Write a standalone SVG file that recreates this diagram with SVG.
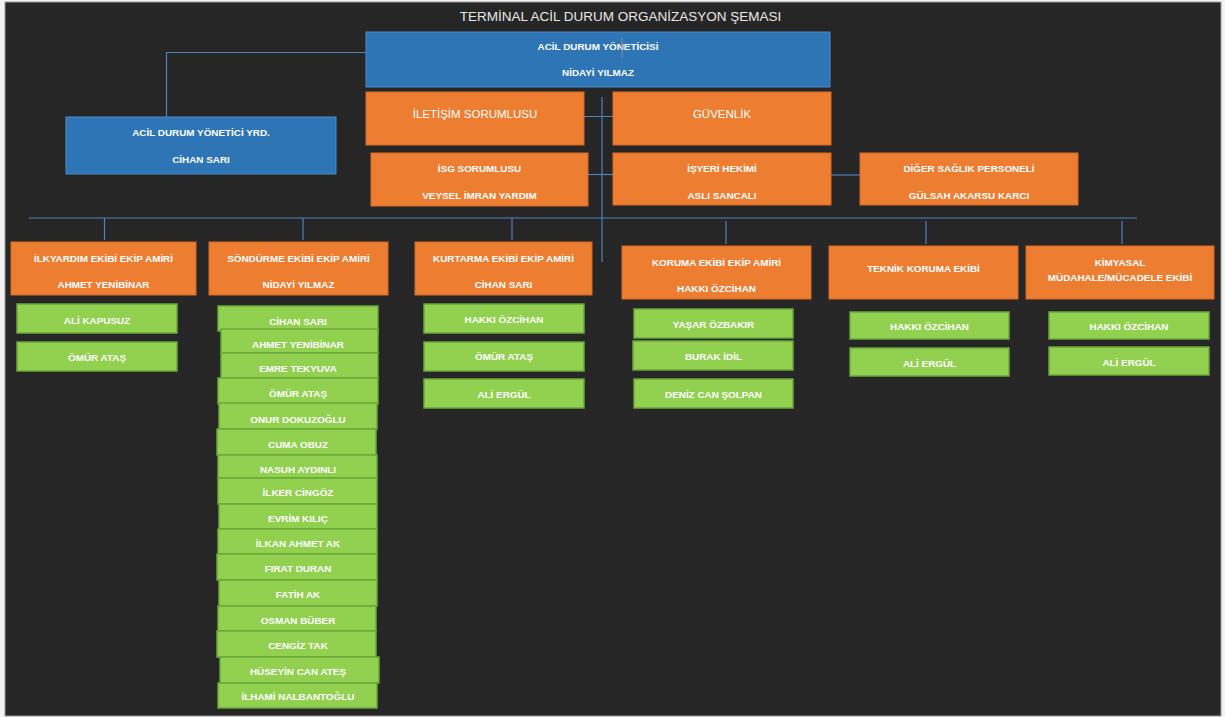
<svg xmlns="http://www.w3.org/2000/svg" width="1225" height="717" viewBox="0 0 1225 717">
<style>
.blue{fill:#2e75b6;stroke:#4a89c8;stroke-width:1}
.orange{fill:#ed7d31;stroke:#d86a22;stroke-width:1}
.green{fill:#92d050;stroke:#6aa83a;stroke-width:1.5}
.t{font-family:"Liberation Sans",Arial,sans-serif;font-size:9.9px;font-weight:bold;fill:#ffffff;text-anchor:middle}
.tl{font-family:"Liberation Sans",Arial,sans-serif;font-size:11.5px;fill:#ffffff;text-anchor:middle}
.title{font-family:"Liberation Sans",Arial,sans-serif;font-size:13.5px;fill:#e6e6e6;text-anchor:middle}
.ln{stroke:#4f81bd;stroke-width:1.2;fill:none}
</style>
<rect x="0" y="0" width="1225" height="717" fill="#f2f2f2"/>
<rect x="5" y="2" width="1216" height="714" fill="#262626" stroke="#9a9a9a" stroke-width="1"/>
<text class="title" x="620.5" y="21">TERMİNAL ACİL DURUM ORGANİZASYON ŞEMASI</text>

<g id="connectors">
<path class="ln" d="M366,52.5 H166.5 V117"/>
<path class="ln" d="M602,97 V262"/>
<path class="ln" d="M584,116.5 H617"/>
<path class="ln" d="M588,174.5 H617"/>
<path class="ln" d="M831,175 H862"/>
<path class="ln" d="M29,218 H1137"/>
<path class="ln" d="M104.5,218 V240"/>
<path class="ln" d="M303,218 V240"/>
<path class="ln" d="M512,218 V240"/>
<path class="ln" d="M726,221 V244"/>
<path class="ln" d="M926,221 V244"/>
<path class="ln" d="M1122,221 V244"/>
</g>

<g id="acil-durum-yoneticisi">
<rect class="blue" x="366" y="32" width="464" height="55"/>
<text class="t" x="598" y="50">ACİL DURUM YÖNETİCİSİ</text>
<text class="t" x="598" y="76">NİDAYİ YILMAZ</text>
<line x1="622" y1="38" x2="622" y2="58" stroke="#8090a8" stroke-width="1"/>
</g>

<g id="yonetici-yrd">
<rect class="blue" x="66" y="117" width="270" height="57"/>
<text class="t" x="201" y="136">ACİL DURUM YÖNETİCİ YRD.</text>
<text class="t" x="201" y="163">CİHAN SARI</text>
</g>

<g id="iletisim">
<rect class="orange" x="366" y="92" width="218" height="53"/>
<text class="tl" x="475" y="118">İLETİŞİM SORUMLUSU</text>
</g>

<g id="guvenlik">
<rect class="orange" x="613" y="92" width="218" height="53"/>
<text class="tl" x="722" y="118">GÜVENLİK</text>
</g>

<g id="isg">
<rect class="orange" x="371" y="153" width="217" height="53"/>
<text class="t" x="479.5" y="172">İSG SORUMLUSU</text>
<text class="t" x="479.5" y="199">VEYSEL İMRAN YARDIM</text>
</g>

<g id="isyeri-hekimi">
<rect class="orange" x="613" y="153" width="218" height="52"/>
<text class="t" x="722" y="172">İŞYERİ HEKİMİ</text>
<text class="t" x="722" y="199">ASLI SANCALI</text>
</g>

<g id="diger-saglik">
<rect class="orange" x="860" y="153" width="218" height="52"/>
<text class="t" x="969" y="172">DİĞER SAĞLIK PERSONELİ</text>
<text class="t" x="969" y="199">GÜLSAH AKARSU KARCI</text>
</g>

<g id="ilkyardim">
<rect class="orange" x="11" y="242" width="185" height="53"/>
<text class="t" x="103.5" y="261.5">İLKYARDIM EKİBİ EKİP AMİRİ</text>
<text class="t" x="103.5" y="288">AHMET YENİBİNAR</text>
<rect class="green" x="17" y="304" width="160" height="29"/>
<text class="t" x="97" y="324">ALİ KAPUSUZ</text>
<rect class="green" x="17" y="342" width="160" height="29"/>
<text class="t" x="97" y="361">ÖMÜR ATAŞ</text>
</g>

<g id="sondurme">
<rect class="orange" x="209" y="242" width="179" height="53"/>
<text class="t" x="298.5" y="261.5">SÖNDÜRME EKİBİ EKİP AMİRİ</text>
<text class="t" x="298.5" y="288">NİDAYİ YILMAZ</text>
<rect class="green" x="218" y="306" width="160" height="25"/>
<text class="t" x="298" y="325">CİHAN SARI</text>
<rect class="green" x="221" y="329" width="157" height="24"/>
<text class="t" x="298" y="348">AHMET YENİBİNAR</text>
<rect class="green" x="221" y="353" width="157" height="25"/>
<text class="t" x="298" y="372">EMRE TEKYUVA</text>
<rect class="green" x="218" y="378" width="160" height="26"/>
<text class="t" x="298" y="397">ÖMÜR ATAŞ</text>
<rect class="green" x="219" y="403" width="158" height="26"/>
<text class="t" x="298" y="423">ONUR DOKUZOĞLU</text>
<rect class="green" x="217" y="429" width="159" height="26"/>
<text class="t" x="298" y="448">CUMA OBUZ</text>
<rect class="green" x="218" y="455" width="159" height="23"/>
<text class="t" x="298" y="473">NASUH AYDINLI</text>
<rect class="green" x="218" y="478" width="159" height="26"/>
<text class="t" x="298" y="496">İLKER CİNGÖZ</text>
<rect class="green" x="219" y="504" width="158" height="25"/>
<text class="t" x="298" y="522">EVRİM KILIÇ</text>
<rect class="green" x="218" y="529" width="159" height="25"/>
<text class="t" x="298" y="547">İLKAN AHMET AK</text>
<rect class="green" x="217" y="554" width="160" height="26"/>
<text class="t" x="298" y="572">FIRAT DURAN</text>
<rect class="green" x="219" y="580" width="158" height="26"/>
<text class="t" x="298" y="598">FATİH AK</text>
<rect class="green" x="218" y="606" width="158" height="25"/>
<text class="t" x="298" y="624">OSMAN BÜBER</text>
<rect class="green" x="217" y="631" width="159" height="26"/>
<text class="t" x="298" y="649">CENGİZ TAK</text>
<rect class="green" x="220" y="657" width="159" height="26"/>
<text class="t" x="298" y="675">HÜSEYİN CAN ATEŞ</text>
<rect class="green" x="218" y="683" width="159" height="25"/>
<text class="t" x="298" y="700">İLHAMİ NALBANTOĞLU</text>
</g>

<g id="kurtarma">
<rect class="orange" x="415" y="242" width="177" height="53"/>
<text class="t" x="503.5" y="261.5">KURTARMA EKİBİ EKİP AMİRİ</text>
<text class="t" x="503.5" y="288">CİHAN SARI</text>
<rect class="green" x="424" y="304" width="160" height="29"/>
<text class="t" x="504" y="323">HAKKI ÖZCİHAN</text>
<rect class="green" x="424" y="342" width="160" height="29"/>
<text class="t" x="504" y="360">ÖMÜR ATAŞ</text>
<rect class="green" x="424" y="379" width="160" height="29"/>
<text class="t" x="504" y="398">ALİ ERGÜL</text>
</g>

<g id="koruma">
<rect class="orange" x="622" y="246" width="189" height="53"/>
<text class="t" x="716.5" y="266">KORUMA EKİBİ EKİP AMİRİ</text>
<text class="t" x="716.5" y="292">HAKKI ÖZCİHAN</text>
<rect class="green" x="634" y="309" width="159" height="29"/>
<text class="t" x="713.5" y="328">YAŞAR ÖZBAKIR</text>
<rect class="green" x="633" y="341" width="160" height="29"/>
<text class="t" x="713.5" y="360">BURAK İDİL</text>
<rect class="green" x="634" y="379" width="159" height="29"/>
<text class="t" x="713.5" y="398">DENİZ CAN ŞOLPAN</text>
</g>

<g id="teknik-koruma">
<rect class="orange" x="829" y="246" width="189" height="53"/>
<text class="t" x="923.5" y="271.5">TEKNİK KORUMA EKİBİ</text>
<rect class="green" x="850" y="312" width="159" height="27"/>
<text class="t" x="929.5" y="330">HAKKI ÖZCİHAN</text>
<rect class="green" x="850" y="348" width="159" height="28"/>
<text class="t" x="929.5" y="367">ALİ ERGÜL</text>
</g>

<g id="kimyasal">
<rect class="orange" x="1026" y="246" width="188" height="53"/>
<text class="t" x="1120" y="266">KİMYASAL</text>
<text class="t" x="1120" y="281">MÜDAHALE/MÜCADELE EKİBİ</text>
<rect class="green" x="1049" y="312" width="160" height="27"/>
<text class="t" x="1129" y="330">HAKKI ÖZCİHAN</text>
<rect class="green" x="1049" y="347" width="160" height="28"/>
<text class="t" x="1129" y="366">ALİ ERGÜL</text>
</g>
</svg>
